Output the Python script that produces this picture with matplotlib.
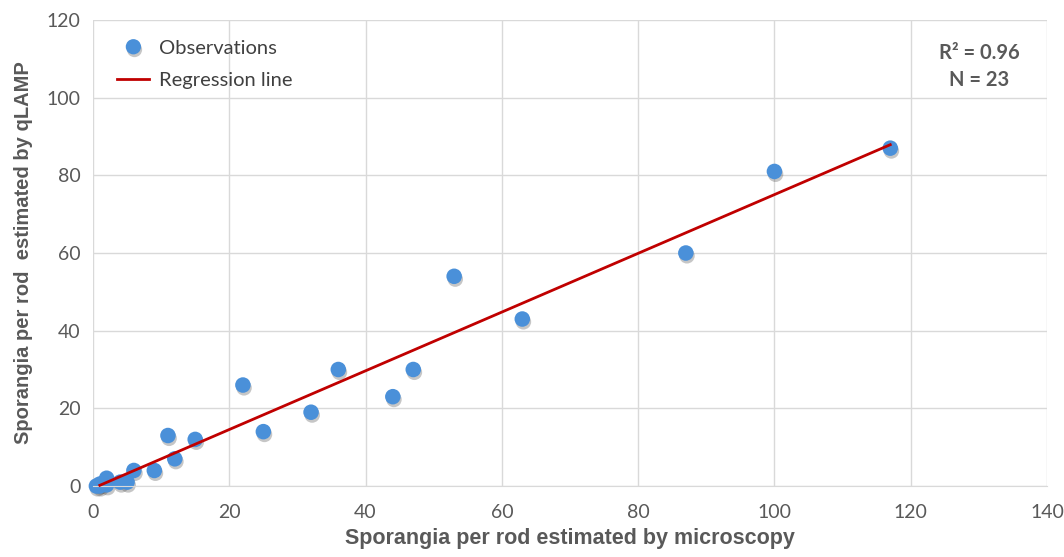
import matplotlib.pyplot as plt
import matplotlib.patheffects as pe
import numpy as np
from matplotlib.lines import Line2D

# Sporangia counts: microscopy (x) vs qLAMP (y)
microscopy = [117, 100, 87, 63, 53, 47, 44, 36, 32, 25, 22, 15, 12, 11, 9, 6, 5, 4, 2, 2, 1, 1, 0.5]
qlamp = [87, 81, 60, 43, 54, 30, 23, 30, 19, 14, 26, 12, 7, 13, 4, 4, 1, 1, 2, 0.3, 0, 0.5, 0]

x_ticks = [0, 20, 40, 60, 80, 100, 120, 140]
y_ticks = [0, 20, 40, 60, 80, 100, 120]
stats_text = "R² = 0.96\nN = 23"

tick_color = "#595959"
point_color = "#4a90d9"
line_color = "#c00000"
grid_color = "#d9d9d9"

fig = plt.figure(figsize=(10.64, 5.57), dpi=100)
ax = fig.add_axes([93 / 1064, 1 - 486 / 557, (1047 - 93) / 1064, (486 - 20) / 557])

shadow = [pe.SimplePatchShadow(offset=(0.8, -2), shadow_rgbFace="#444444", alpha=0.3), pe.Normal()]

x = np.array(microscopy, dtype=float)
y = np.array(qlamp, dtype=float)
slope, intercept = np.polyfit(x, y, 1)
xs = np.array([x.min() + 0.5, x.max()])
ax.plot(xs, slope * xs + intercept, color=line_color, lw=2, zorder=3, clip_on=False)

sc = ax.scatter(x, y, s=125, color=point_color, edgecolors="none", zorder=2, clip_on=False)
sc.set_path_effects(shadow)

ax.set_xlim(0, 140)
ax.set_ylim(0, 120)
ax.set_xticks(x_ticks)
ax.set_yticks(y_ticks)
ax.grid(True, color=grid_color, lw=1)
ax.set_axisbelow(True)
for s in ax.spines.values():
    s.set_visible(False)
ax.spines["bottom"].set_visible(True)
ax.spines["bottom"].set_color(grid_color)
ax.tick_params(length=0, labelsize=14, colors=tick_color)
ax.tick_params(axis="x", pad=13)
ax.tick_params(axis="y", pad=9)
for lbl in ax.get_xticklabels() + ax.get_yticklabels():
    lbl.set_family(["Lato", "DejaVu Sans"])

ax.set_xlabel("Sporangia per rod estimated by microscopy", fontsize=15.5, fontweight="bold",
              color=tick_color, family="Liberation Sans", labelpad=5)
ax.set_ylabel("Sporangia per rod  estimated by qLAMP", fontsize=14.5, fontweight="bold",
              color=tick_color, family="Liberation Sans", labelpad=10)

handles = [
    Line2D([0], [0], marker="o", color="none", markerfacecolor=point_color,
           markeredgecolor="none", markersize=11, label="Observations",
           path_effects=shadow),
    Line2D([0], [0], color=line_color, lw=2, label="Regression line"),
]
leg = ax.legend(handles=handles, loc="upper left", bbox_to_anchor=(0.017, 0.975),
                frameon=False, prop={"family": "Lato", "size": 14.5}, handlelength=1.6,
                handletextpad=0.45, labelspacing=0.75, borderaxespad=0)
for t in leg.get_texts():
    t.set_color("#404040")

ax.text(0.929, 0.9, stats_text, transform=ax.transAxes, ha="center", va="center",
        fontsize=14.5, fontweight="bold", color=tick_color, family="Lato", linespacing=1.4)

fig.savefig("out.png", dpi=100)
